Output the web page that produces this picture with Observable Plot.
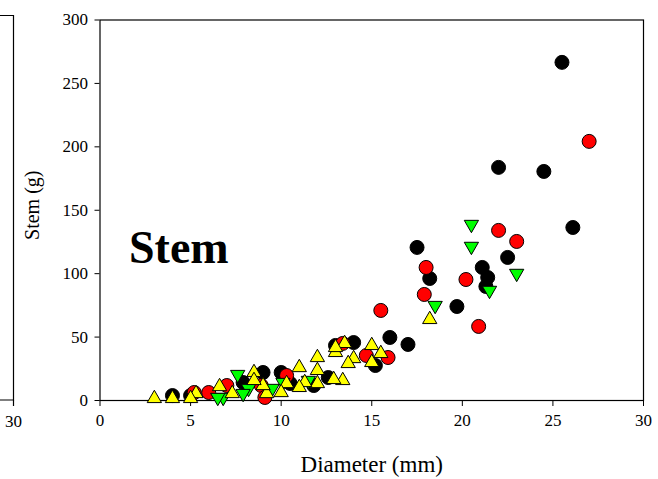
<!DOCTYPE html>
<html>
<head>
<meta charset="utf-8">
<script src="https://cdn.jsdelivr.net/npm/d3@7"></script>
<script src="https://cdn.jsdelivr.net/npm/@observablehq/plot@0.6"></script>
<style>
  body { margin: 0; background: #fff; }
  #chart { width: 658px; height: 479px; }
</style>
</head>
<body>
<div id="chart"></div>
<script>
// Stem mass (g) against stem diameter (mm), four groups of trees.
const blackDiameter = [25.5, 24.5, 22.0, 26.1, 22.5, 17.5, 21.1, 21.4, 21.3, 18.2, 19.7, 16.0, 17.0, 14.0, 15.2, 13.0, 12.6, 11.8, 10.5, 10.0, 9.0, 7.9, 5.0, 4.0];
const blackStem     = [266.6, 180.6, 183.8, 136.4, 112.8, 120.7, 104.9, 97.0, 89.9, 96.2, 74.1, 49.7, 44.2, 45.7, 27.6, 43.4, 18.1, 11.8, 13.4, 22.1, 22.1, 14.2, 3.9, 3.9];

const redDiameter = [27.0, 22.0, 23.0, 18.0, 20.2, 17.9, 20.9, 15.5, 15.9, 14.7, 13.4, 10.3, 8.9, 9.1, 7.0, 6.0, 5.2];
const redStem     = [204.3, 134.1, 125.4, 104.9, 95.4, 83.6, 58.4, 71.0, 33.9, 35.5, 45.0, 19.7, 11.8, 2.4, 11.8, 6.3, 6.3];

const greenDiameter = [20.5, 20.5, 23.0, 21.5, 18.5, 11.5, 10.1, 9.5, 8.2, 7.9, 7.6, 6.8, 6.5];
const greenStem     = [138.8, 121.5, 100.2, 86.8, 74.9, 15.8, 14.2, 9.5, 9.5, 5.5, 20.5, 2.4, 2.4];

const yellowDiameter = [18.2, 15.0, 15.5, 15.0, 14.0, 13.7, 13.4, 13.5, 13.0, 13.0, 12.0, 11.0, 12.0, 12.9, 12.0, 11.3, 11.0, 10.3, 10.0, 9.2, 9.0, 8.5, 8.5, 7.3, 6.6, 5.3, 5.0, 4.0, 3.0];
const yellowStem     = [63.9, 43.4, 37.1, 30.0, 33.1, 29.2, 15.8, 45.0, 37.9, 41.8, 33.9, 26.0, 23.7, 16.6, 13.4, 14.2, 10.3, 13.4, 6.3, 5.5, 11.8, 22.1, 15.8, 5.5, 11.0, 5.5, 1.6, 1.6, 1.6];

const xTicks = [0, 5, 10, 15, 20, 25, 30];
const yTicks = [0, 50, 100, 150, 200, 250, 300];
const xTitle = "Diameter (mm)";
const yTitle = "Stem (g)";
const panelTitle = "Stem";

const rows = (diam, stem) => diam.map((d, i) => ({diameter: d, stem: stem[i]}));
const black = rows(blackDiameter, blackStem);
const red = rows(redDiameter, redStem);
const green = rows(greenDiameter, greenStem);
const yellow = rows(yellowDiameter, yellowStem);

// Downward-pointing triangle with the same area convention as d3.symbolTriangle.
const triangleDown = {
  draw(context, size) {
    const s3 = Math.sqrt(3);
    const y = Math.sqrt(size / (3 * s3));
    context.moveTo(0, 2 * y);
    context.lineTo(-s3 * y, -y);
    context.lineTo(s3 * y, -y);
    context.closePath();
  }
};

const serif = "'Liberation Serif', 'Times New Roman', serif";
const dotStyle = {x: "diameter", y: "stem", stroke: "#000", strokeWidth: 1};

const chart = Plot.plot({
  width: 658,
  height: 479,
  marginLeft: 99.5,
  marginRight: 15,
  marginTop: 19.5,
  marginBottom: 79,
  style: {fontFamily: serif, fontSize: "17px", color: "#000", background: "#fff", overflow: "visible"},
  x: {domain: [0, 30]},
  y: {domain: [0, 300]},
  marks: [
    Plot.frame({stroke: "#000", strokeWidth: 1.2}),
    Plot.axisX({ticks: xTicks, tickSize: 6, tickPadding: 7, label: null, fontSize: 17}),
    Plot.axisY({ticks: yTicks, tickSize: 5, tickPadding: 7, label: null, fontSize: 17}),
    Plot.dot(black, {...dotStyle, r: 7, fill: "#000"}),
    Plot.dot(red, {...dotStyle, r: 7, fill: "#ff0000"}),
    Plot.dot(green, {...dotStyle, r: 5.3, symbol: triangleDown, fill: "#00ff00"}),
    Plot.dot(yellow, {...dotStyle, r: 5.3, symbol: "triangle", fill: "#ffff00"}),
    Plot.text([panelTitle], {x: 1.6, y: 120, text: d => d, textAnchor: "start", lineAnchor: "middle", fontSize: 46, fontWeight: "bold", fill: "#000"}),
    Plot.text([xTitle], {frameAnchor: "bottom", dy: 64, text: d => d, textAnchor: "middle", lineAnchor: "middle", fontSize: 23, fill: "#000"}),
    Plot.text([yTitle], {frameAnchor: "left", dx: -67, dy: -5, rotate: -90, text: d => d, textAnchor: "middle", lineAnchor: "middle", fontSize: 20, fill: "#000"})
  ]
});

// Edge of the neighbouring panel on the left: its right border and last x tick.
const svg = d3.select(chart);
const edge = svg.append("g").attr("stroke", "#000").attr("stroke-width", 1.2).attr("fill", "none");
edge.append("path").attr("d", "M0,15.5H13.5V400H0");
edge.append("path").attr("d", "M13.5,400V406");
svg.append("text").attr("x", 13.5).attr("y", 427).attr("text-anchor", "middle")
  .attr("font-family", serif).attr("font-size", 17).attr("fill", "#000").text("30");

document.getElementById("chart").appendChild(chart);
</script>
</body>
</html>
